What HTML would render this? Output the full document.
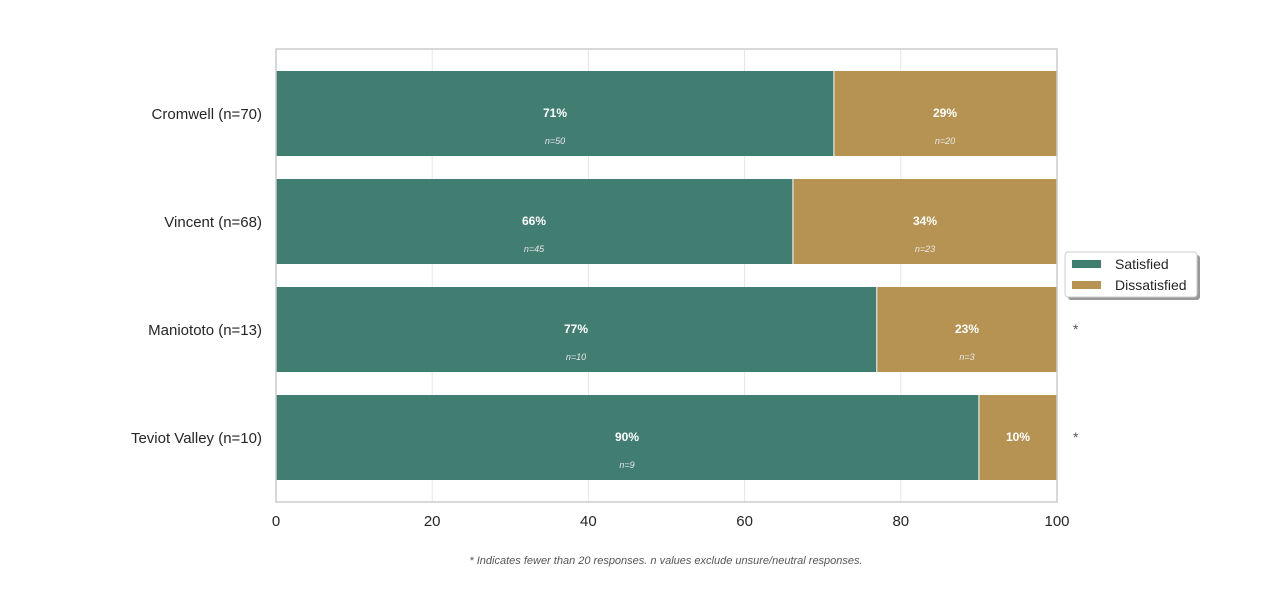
<!DOCTYPE html>
<html><head><meta charset="utf-8"><style>
html,body{margin:0;padding:0;background:#fff;}
svg{display:block;font-family:"Liberation Sans",Arial,sans-serif;}
</style></head><body>
<svg width="1264" height="606" viewBox="0 0 1264 606" xmlns="http://www.w3.org/2000/svg">
<rect width="1264" height="606" fill="#fff"/>
<g stroke="#e6e6e6" stroke-width="1">
<line x1="432.2" y1="49" x2="432.2" y2="502"/>
<line x1="588.4" y1="49" x2="588.4" y2="502"/>
<line x1="744.6" y1="49" x2="744.6" y2="502"/>
<line x1="900.8" y1="49" x2="900.8" y2="502"/>
</g>
<g>
<rect x="276" y="71" width="557.9" height="85" fill="#417d71"/>
<rect x="833.9" y="71" width="223.1" height="85" fill="#b69352"/>
<rect x="276" y="179" width="516.9" height="85" fill="#417d71"/>
<rect x="792.9" y="179" width="264.1" height="85" fill="#b69352"/>
<rect x="276" y="287" width="600.8" height="85" fill="#417d71"/>
<rect x="876.8" y="287" width="180.2" height="85" fill="#b69352"/>
<rect x="276" y="395" width="702.9" height="85" fill="#417d71"/>
<rect x="978.9" y="395" width="78.1" height="85" fill="#b69352"/>
</g>
<g stroke="#fff" stroke-width="1">
<line x1="833.9" y1="71" x2="833.9" y2="156"/>
<line x1="792.9" y1="179" x2="792.9" y2="264"/>
<line x1="876.8" y1="287" x2="876.8" y2="372"/>
<line x1="978.9" y1="395" x2="978.9" y2="480"/>
</g>
<rect x="276" y="49" width="781" height="453" fill="none" stroke="#cccccc" stroke-width="1.5"/>
<g fill="#fff" font-weight="bold" font-size="12" text-anchor="middle">
<text x="555" y="117">71%</text><text x="945" y="117">29%</text>
<text x="534" y="225">66%</text><text x="925" y="225">34%</text>
<text x="576" y="333">77%</text><text x="967" y="333">23%</text>
<text x="627" y="441">90%</text><text x="1018" y="441">10%</text>
</g>
<g fill="#e8e8e8" font-style="italic" font-size="9" text-anchor="middle">
<text x="555" y="144">n=50</text><text x="945" y="144">n=20</text>
<text x="534" y="252">n=45</text><text x="925" y="252">n=23</text>
<text x="576" y="360">n=10</text><text x="967" y="360">n=3</text>
<text x="627" y="468">n=9</text>
</g>
<g fill="#262626" font-size="15" text-anchor="end">
<text x="262" y="119">Cromwell (n=70)</text>
<text x="262" y="227">Vincent (n=68)</text>
<text x="262" y="335">Maniototo (n=13)</text>
<text x="262" y="443">Teviot Valley (n=10)</text>
</g>
<g fill="#262626" font-size="15" text-anchor="middle">
<text x="276" y="526">0</text><text x="432.2" y="526">20</text><text x="588.4" y="526">40</text>
<text x="744.6" y="526">60</text><text x="900.8" y="526">80</text><text x="1057" y="526">100</text>
</g>
<g fill="#555" font-size="14"><text x="1073" y="334">*</text><text x="1073" y="442">*</text></g>
<rect x="1068" y="255" width="132" height="45" rx="3" fill="#999"/>
<rect x="1065" y="252" width="132" height="45" rx="3" fill="#fff" stroke="#ccc"/>
<rect x="1072" y="260" width="29" height="8" fill="#417d71"/>
<rect x="1072" y="281" width="29" height="8" fill="#b69352"/>
<g fill="#262626" font-size="14"><text x="1115" y="269">Satisfied</text><text x="1115" y="290">Dissatisfied</text></g>
<text x="666" y="564" fill="#555" font-size="11" font-style="italic" text-anchor="middle">* Indicates fewer than 20 responses. n values exclude unsure/neutral responses.</text>
</svg>
</body></html>
